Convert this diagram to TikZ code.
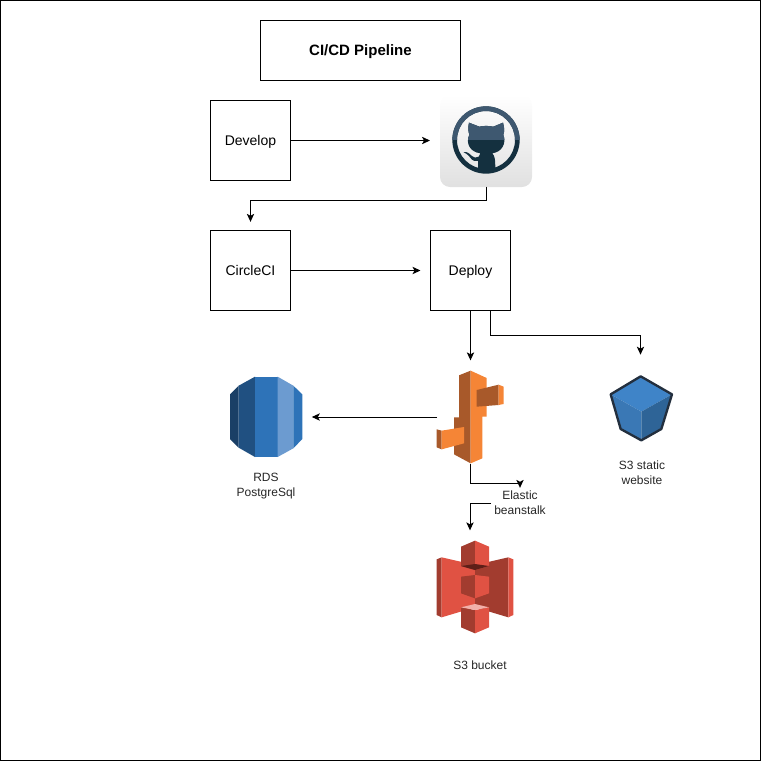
\documentclass[tikz,border=0pt]{standalone}
\usepackage{fontspec}
\setmainfont{Liberation Sans}
\usepackage{xcolor}
\usetikzlibrary{arrows.meta,positioning}
\definecolor{ebLight}{RGB}{245, 133, 54}
\definecolor{ebDark}{RGB}{168, 89, 42}
\definecolor{s3Red}{RGB}{224, 82, 67}
\definecolor{s3Dark}{RGB}{162, 60, 47}
\definecolor{s3Shade}{RGB}{94, 31, 24}
\definecolor{s3Pale}{RGB}{242, 176, 169}
\definecolor{rdsNavy}{RGB}{26, 63, 102}
\definecolor{rdsDark}{RGB}{32, 80, 129}
\definecolor{rdsMid}{RGB}{46, 115, 184}
\definecolor{rdsPale}{RGB}{108, 155, 208}
\definecolor{cubeTop}{RGB}{63, 132, 200}
\definecolor{cubeLeft}{RGB}{58, 120, 181}
\definecolor{cubeRight}{RGB}{46, 100, 151}
\definecolor{cubeEdge}{RGB}{35, 47, 62}
\definecolor{octoDark}{RGB}{20, 48, 63}
\definecolor{octoPale}{RGB}{62, 88, 112}
\newcommand{\octoShape}[1]{
    \fill[#1, even odd rule] (168,150) circle (101) (168,150) circle (87);
    \fill[#1] (117,98) -- (148,110) .. controls (160,107) and (176,107) .. (190,110) -- (219,98)
        .. controls (223,112) and (224,124) .. (220,134) .. controls (230,160) and (216,186) .. (187,190)
        .. controls (194,198) and (196,205) .. (196,241) -- (144,241) -- (144,213)
        .. controls (126,216) and (122,204) .. (116,197) .. controls (112,192) and (106,190) .. (100,186)
        .. controls (112,184) and (120,192) .. (126,198) .. controls (132,204) and (138,204) .. (146,200)
        .. controls (146,195) and (148,193) .. (151,190) .. controls (120,186) and (106,160) .. (118,134)
        .. controls (114,124) and (114,112) .. (117,98) -- cycle;
}
\tikzset{
    stagebox/.style={draw, line width=0.75pt, minimum width=60pt, minimum height=60pt, inner sep=0pt, outer sep=0pt, text height=8.25pt, text depth=1.5pt, font=\fontsize{10.5pt}{12pt}\selectfont},
    iconbox/.style={inner sep=0pt, outer sep=0pt},
    caption/.style={align=center, inner sep=2.25pt, font=\fontsize{9pt}{11.25pt}\selectfont, text=black!85},
    flow/.style={line width=0.75pt, -{Stealth[length=6pt,width=5.5pt,inset=1.5pt]}}
}

\begin{document}
\begin{tikzpicture}[x=0.75pt, y=-0.75pt]
    \useasboundingbox (0,0) rectangle (761,761);
    \draw[line width=0.75pt] (0.5,0.5) rectangle (760.5,760.5);

    % boxes
    \node[stagebox, minimum width=150pt, minimum height=45pt, font=\fontsize{11.25pt}{12pt}\selectfont\bfseries] (title) at (360.5,50.5) {CI/CD Pipeline};
    \node[stagebox] (develop) at (250.5,140.5) {Develop};
    \node[stagebox] (circleci) at (250.5,270.5) {CircleCI};
    \node[stagebox] (deploy) at (470.5,270.5) {Deploy};

    % icons, only the frames are nodes
    \node[iconbox, minimum width=69pt, minimum height=69pt] (github) at (486,140.5) {};
    \node[iconbox, minimum width=50pt, minimum height=70pt] (beanstalk) at (470.5,417) {};
    \node[iconbox, minimum width=55pt, minimum height=61pt] (rds) at (266.5,417) {};
    \node[iconbox, minimum width=50pt, minimum height=50pt] (s3static) at (640.5,408) {};
    \node[iconbox, minimum width=57pt, minimum height=70pt] (s3bucket) at (475,587) {};

    % github
    \shade[top color=white, bottom color=black!12, rounded corners=7.5pt] (440,95) rectangle (532,187);
    \begin{scope}[shift={(430,90)}, x=0.25pt, y=-0.25pt]
        \octoShape{octoDark}
        \begin{scope}
            \clip (50,30) rectangle (290,148);
            \octoShape{octoPale}
        \end{scope}
    \end{scope}

    % beanstalk
    \begin{scope}[shift={(420,360)}, x=0.25pt, y=-0.25pt]
        \fill[ebDark] (117,46) -- (152,32) -- (152,310) -- (102,283) -- (102,172) -- (117,172) -- cycle;
        \fill[ebLight] (152,32) -- (200,54) -- (200,170) -- (187,170) -- (187,295) -- (152,310) -- cycle;
        \fill[ebDark] (170,90) -- (236,74) -- (236,135) -- (170,140) -- cycle;
        \fill[ebLight] (236,74) -- (251,80) -- (251,132) -- (236,135) -- cycle;
        \fill[ebDark] (50,208) -- (65,212) -- (65,268) -- (50,262) -- cycle;
        \fill[ebLight] (65,212) -- (132,201) -- (132,250) -- (65,268) -- cycle;
    \end{scope}

    % rds
    \begin{scope}[shift={(220,365)}, x=0.25pt, y=-0.25pt]
        \fill[rdsNavy] (30,88) -- (56,62) -- (56,248) -- (30,222) -- cycle;
        \fill[rdsDark] (56,62) -- (105,35) -- (105,276) -- (56,248) -- cycle;
        \fill[rdsMid] (105,35) rectangle (173,276);
        \fill[rdsPale] (173,35) -- (220,62) -- (220,250) -- (173,276) -- cycle;
        \fill[rdsMid] (220,62) -- (247,88) -- (247,222) -- (220,250) -- cycle;
    \end{scope}

    % s3 static
    \begin{scope}[shift={(600,365)}, x=0.25pt, y=-0.25pt]
        \fill[cubeTop] (122,34) -- (216,88) -- (124,140) -- (32,88) -- cycle;
        \fill[cubeLeft] (32,88) -- (124,140) -- (124,226) -- (62,192) -- cycle;
        \fill[cubeRight] (124,140) -- (216,88) -- (184,192) -- (124,226) -- cycle;
        \draw[cubeEdge, line width=1.75pt, line join=round] (122,34) -- (216,88) -- (184,192) -- (124,226) -- (62,192) -- (32,88) -- cycle;
    \end{scope}

    % s3 bucket
    \begin{scope}[shift={(425,530)}, x=0.25pt, y=-0.25pt]
        \fill[s3Dark] (35,88) -- (50,82) -- (50,262) -- (35,255) -- cycle;
        \fill[s3Red] (50,82) -- (150,105) -- (150,232) -- (50,262) -- cycle;
        \fill[s3Dark] (150,105) -- (250,82) -- (250,262) -- (150,232) -- cycle;
        \fill[s3Red] (250,82) -- (265,88) -- (265,255) -- (250,262) -- cycle;
        \fill[s3Dark] (108,50) -- (150,32) -- (150,120) -- (108,108) -- cycle;
        \fill[s3Red] (150,32) -- (192,50) -- (192,108) -- (150,120) -- cycle;
        \fill[s3Shade] (108,108) -- (150,102) -- (192,108) -- (150,120) -- cycle;
        \fill[s3Dark] (108,140) -- (150,135) -- (150,205) -- (108,190) -- cycle;
        \fill[s3Red] (150,135) -- (192,140) -- (192,190) -- (150,205) -- cycle;
        \fill[s3Dark] (108,232) -- (150,240) -- (150,310) -- (108,292) -- cycle;
        \fill[s3Red] (150,240) -- (192,232) -- (192,292) -- (150,310) -- cycle;
        \fill[s3Pale] (108,232) -- (150,222) -- (192,232) -- (150,240) -- cycle;
    \end{scope}

    % captions
    \node[caption] (rdsLabel) at (266,486) {RDS\\PostgreSql};
    \node[caption] (staticLabel) at (642,473) {S3 static\\website};
    \node[caption] (beanstalkLabel) at (520,503) {Elastic\\beanstalk};
    \node[caption] (bucketLabel) at (480,665) {S3 bucket};

    % connectors
    \draw[flow, shorten >=7.5pt] (develop) -- (github);
    \draw[flow, shorten >=6.5pt] (github.south) -- ++(0,14) -| (circleci.north);
    \draw[flow, shorten >=7.5pt] (circleci) -- (deploy);
    \draw[flow, shorten >=7.5pt] (deploy.south) -- (beanstalk.north);
    \draw[flow] ([xshift=15pt]deploy.south) -- ++(0,25) -| ([yshift=15pt]s3static.north);
    \draw[flow, shorten >=6.5pt] (beanstalk.west) -- (rds.east);
    \draw[flow] (beanstalk.south) -- ++(0,20) -| (beanstalkLabel.north);
    \draw[flow, shorten >=7.5pt] (beanstalkLabel.west) -| ([xshift=-3.75pt]s3bucket.north);
\end{tikzpicture}
\end{document}
